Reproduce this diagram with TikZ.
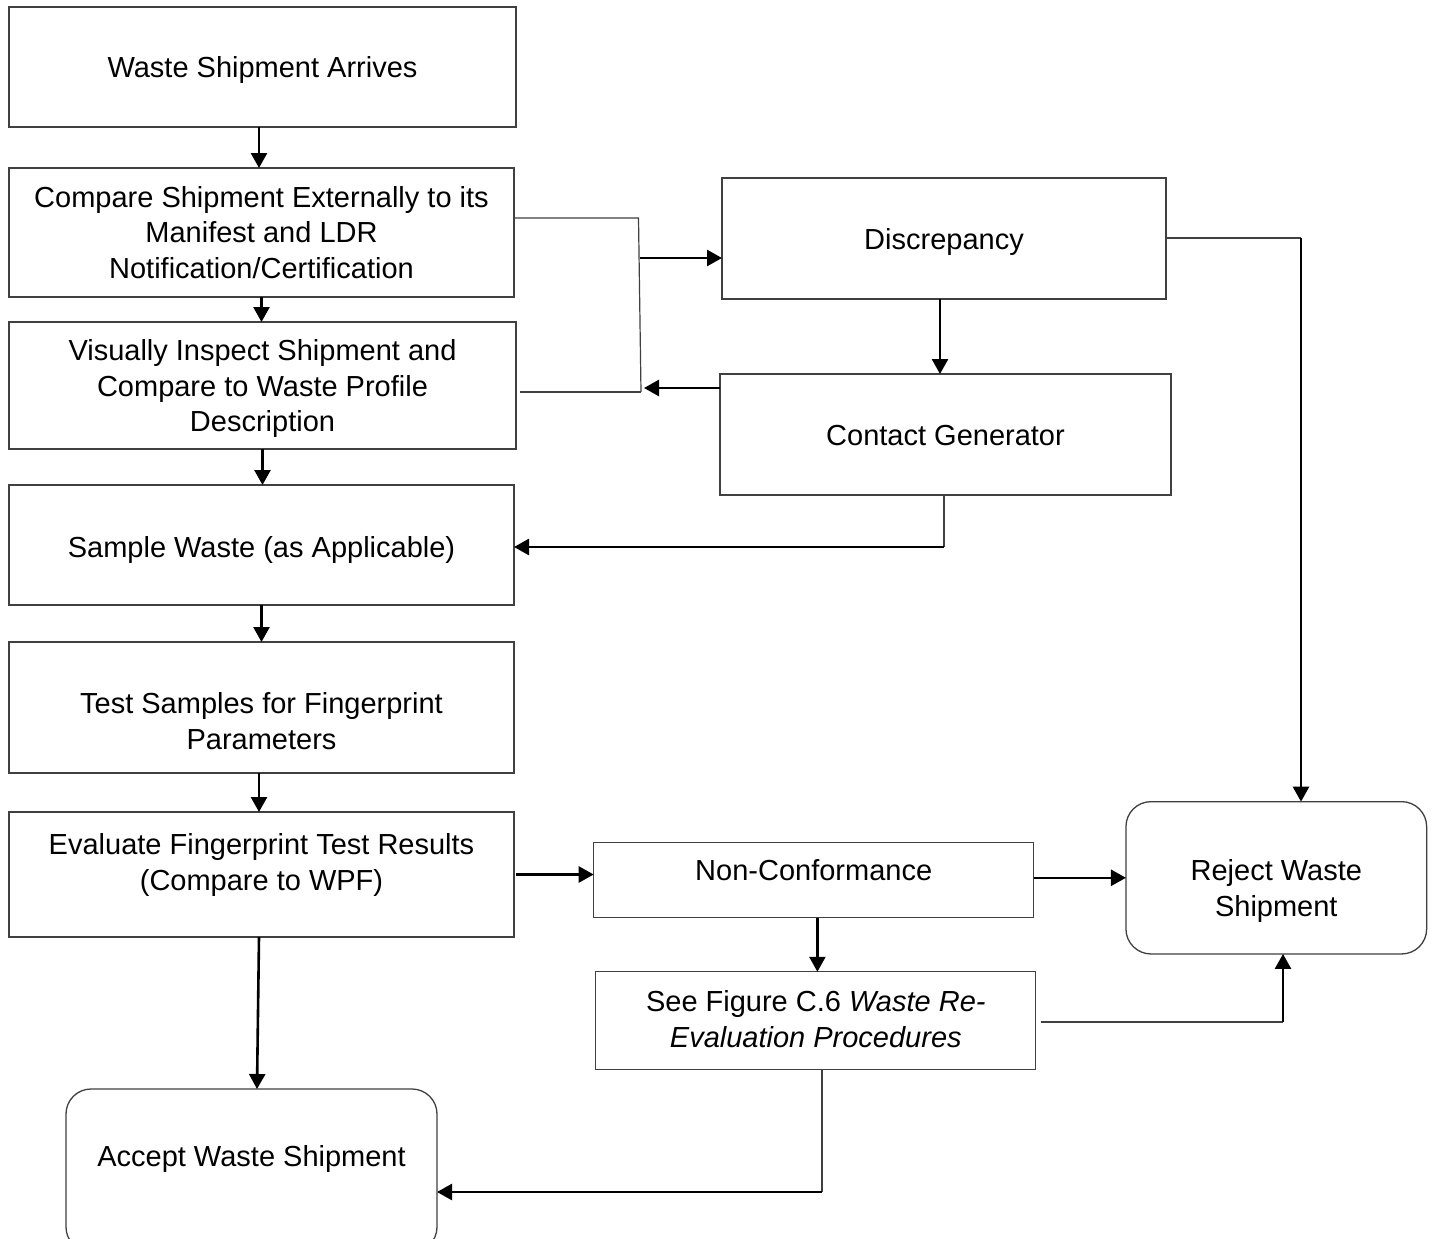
\documentclass[tikz,border=0pt]{standalone}
\usepackage{fontspec}
\setmainfont{Liberation Sans}
\usetikzlibrary{arrows.meta}
\definecolor{edge}{HTML}{404040}
\begin{document}
\begin{tikzpicture}[x=1pt,y=-1pt,
 box/.style={draw=edge,line width=1.3pt,inner sep=0pt,outer sep=0pt,rectangle},
 rbox/.style={box,rounded corners=25pt},
 txt/.style={align=center,inner sep=0pt,font=\fontsize{29}{35.7}\selectfont},
 link/.style={draw=edge,line width=1.2pt},
 flow/.style={draw=black,line width=2.6pt,-{Triangle[length=15pt,width=16pt]}},
]
\useasboundingbox (0,0) rectangle (1433,1239);
\clip (0,0) rectangle (1433,1239);
\fill[white] (0,0) rectangle (1433,1239);

% boxes
\node[box,minimum width=507pt,minimum height=120pt] (arr) at (262.5,67) {};
\node[box,minimum width=505pt,minimum height=129pt] (cmp) at (261.5,232.5) {};
\node[box,minimum width=507pt,minimum height=127pt] (vis) at (262.5,385.5) {};
\node[box,minimum width=505pt,minimum height=120pt] (smp) at (261.5,545) {};
\node[box,minimum width=505pt,minimum height=131pt] (tst) at (261.5,707.5) {};
\node[box,minimum width=505pt,minimum height=125pt] (evl) at (261.5,874.5) {};
\node[rbox,minimum width=371pt,minimum height=163pt] (acc) at (251.5,1170.5) {};
\node[box,minimum width=444pt,minimum height=121pt] (dis) at (944,238.5) {};
\node[box,minimum width=451pt,minimum height=121pt] (con) at (945.5,434.5) {};
\node[box,minimum width=440pt,minimum height=75pt] (non) at (813.7,880) {};
\node[box,minimum width=440pt,minimum height=97.5pt] (see) at (815.8,1020.5) {};
\node[rbox,minimum width=300.7pt,minimum height=152.3pt] (rej) at (1276.3,877.8) {};

% texts
\node[txt] (arr-t) at ([yshift=-3pt]arr.center) {Waste Shipment Arrives};
\node[txt] (cmp-t) at (cmp.center) {Compare Shipment Externally to its\\Manifest and LDR\\Notification/Certification};
\node[txt] (vis-t) at ([yshift=-3pt]vis.center) {Visually Inspect Shipment and\\Compare to Waste Profile\\Description};
\node[txt] (smp-t) at ([yshift=-5pt]smp.center) {Sample Waste (as Applicable)};
\node[txt] (tst-t) at ([yshift=-13.5pt]tst.center) {Test Samples for Fingerprint\\Parameters};
\node[txt] (evl-t) at ([yshift=9.5pt]evl.center) {Evaluate Fingerprint Test Results\\(Compare to WPF)};
\node[txt] (acc-t) at ([yshift=-70pt]acc.north) {Accept Waste Shipment};
\node[txt] (dis-t) at ([yshift=-3.5pt]dis.center) {Discrepancy};
\node[txt] (con-t) at ([yshift=-1.5pt]con.center) {Contact Generator};
\node[txt] (non-t) at ([yshift=10pt]non.center) {Non-Conformance};
\node[txt] (see-t) at ([yshift=1.5pt]see.center) {See Figure C.6 \textit{Waste Re-}\\\textit{Evaluation Procedures}};
\node[txt] (rej-t) at ([yshift=-13.5pt]rej.center) {Reject Waste\\Shipment};

% junction points
\coordinate (j1) at (638.5,218);
\coordinate (j2) at (641,392);
\coordinate (j3) at (640,258);
\coordinate (j4) at (644,388);
\coordinate (j5) at (944,547);
\coordinate (j6) at (1301,238);
\coordinate (j7) at (1283,1022);
\coordinate (j8) at (822,1192);

% main column
\draw[flow] ([xshift=-3.5pt]arr.south) -- ([xshift=-3.5pt]arr.south |- cmp.north);
\draw[flow] (cmp.south) -- (cmp.south |- vis.north);
\draw[flow] (vis.south) -- (vis.south |- smp.north);
\draw[flow] (smp.south) -- (smp.south |- tst.north);
\draw[flow] ([xshift=-2.5pt]tst.south) -- ([xshift=-2.5pt]tst.south |- evl.north);
\draw[flow] ([xshift=-2.5pt]evl.south) -- ([xshift=5.5pt]acc.north);

% discrepancy loop
\draw[link] (cmp.east |- j1) -- (j1) -- (j2);
\draw[link] ([xshift=4pt]vis.east |- j2) -- (j2);
\draw[flow] (j3) -- (j3 -| dis.west);
\draw[flow] (con.west |- j4) -- (j4);
\draw[flow] ([xshift=-4pt]dis.south) -- ([xshift=-4pt]dis.south |- con.north);
\draw[link] (con.south -| j5) -- (j5);
\draw[flow] (j5) -- (j5 -| smp.east);
\draw[link] (dis.east |- j6) -- (j6);
\draw[flow] (j6) -- (j6 |- rej.north);

% non-conformance branch
\draw[flow] ([xshift=2pt]evl.east) -- (evl.east -| non.west);
\draw[flow] (non.east |- rej.west) -- (rej.west);
\draw[flow] ([xshift=3.7pt]non.south) -- ([xshift=3.7pt]non.south |- see.north);
\draw[link] ([xshift=5pt]see.east |- j7) -- (j7);
\draw[flow] (j7) -- (j7 |- rej.south);
\draw[link] (see.south -| j8) -- (j8);
\draw[flow] (j8) -- (j8 -| acc.east);
\end{tikzpicture}
\end{document}
